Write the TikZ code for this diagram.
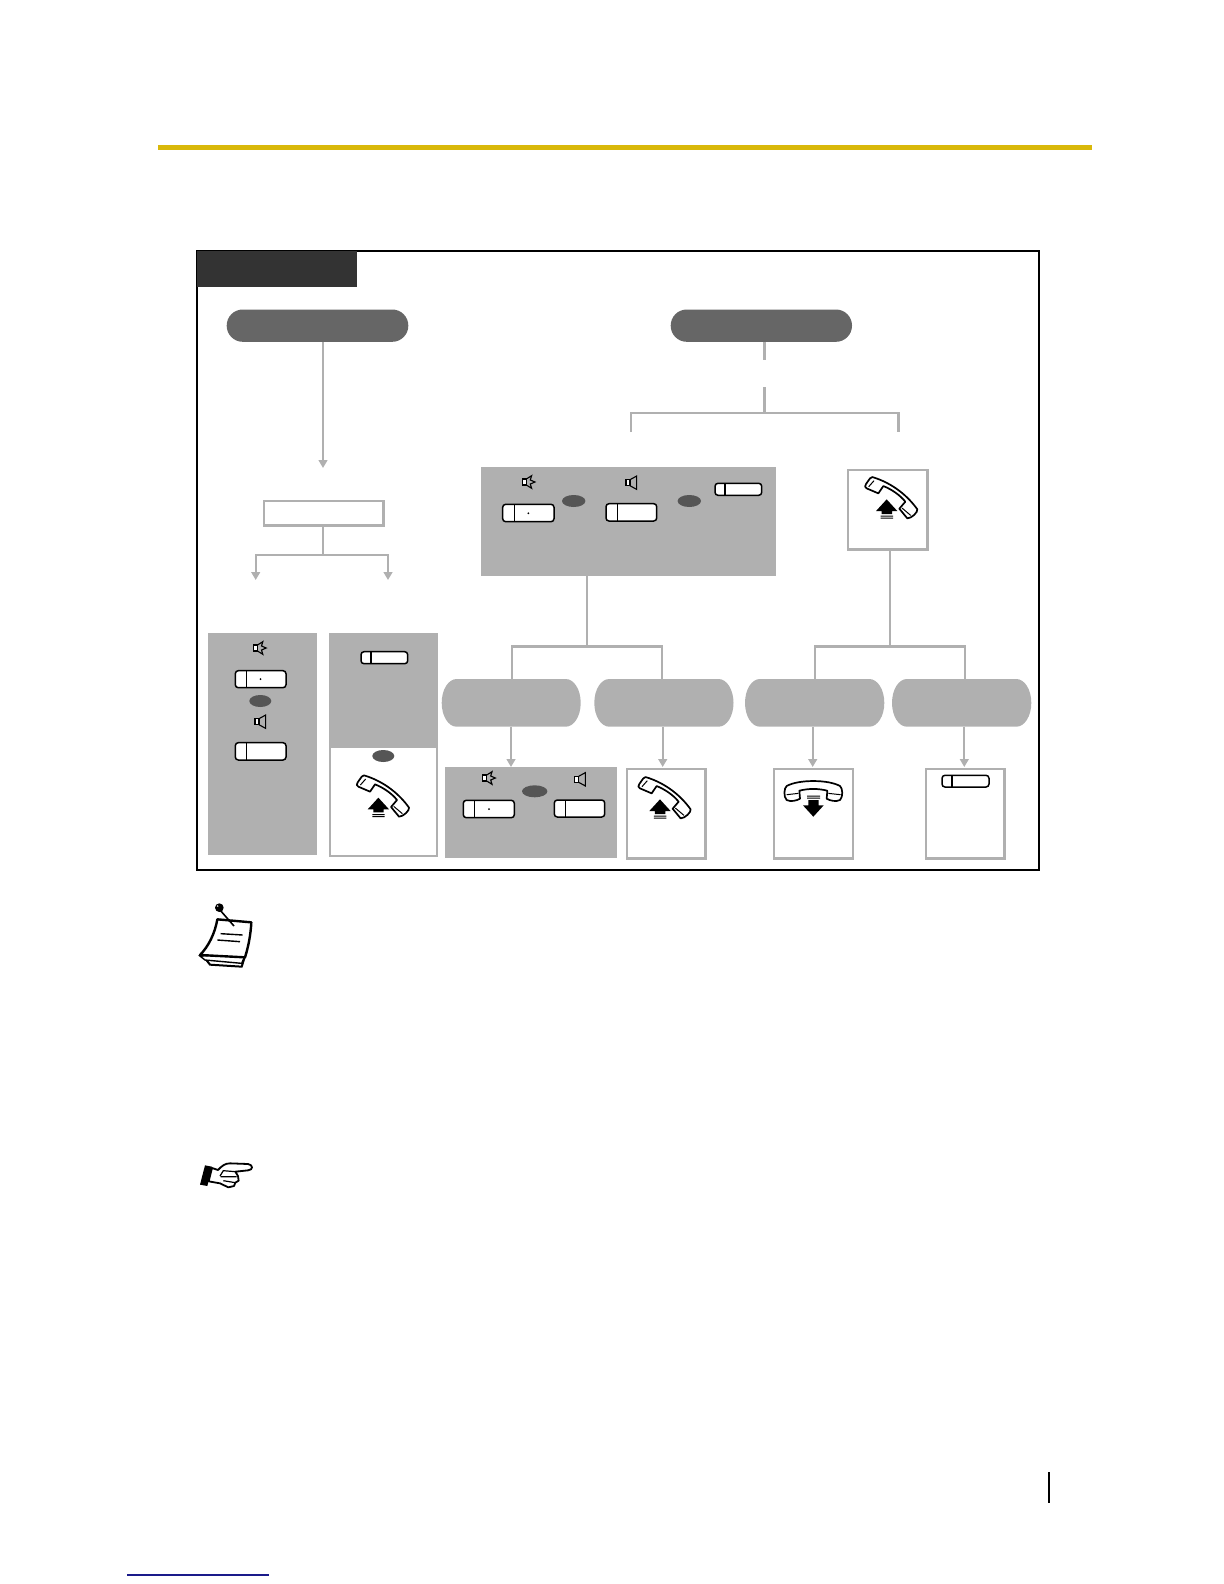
\documentclass[tikz,border=0pt]{standalone}
\usetikzlibrary{arrows.meta}
\definecolor{gr}{HTML}{B0B0B0}
\definecolor{pilldark}{HTML}{666666}
\definecolor{ovalc}{HTML}{555555}
\definecolor{tabc}{HTML}{333333}
\definecolor{goldc}{HTML}{D9B80A}
\definecolor{linkc}{HTML}{1A1A8A}
\newcommand\boxnode[6]{%
  \pgfmathsetmacro\rbW{(#5-#3)*0.5}\pgfmathsetmacro\rbH{(#6-#4)*0.5}%
  \node[#1,minimum width=\rbW pt,minimum height=\rbH pt] (#2) at ({(#3+#5)/2},{(#4+#6)/2}) {};}
\newcommand\pillk[5]{% name x1 y1 x2 y2: flattened ends
  \boxnode{pillanchor}{#1}{#2}{#3}{#4}{#5}%
  \pgfmathsetmacro\rbM{(#3+#5)/2}%
  \pgfmathsetmacro\rbA{#2+15}\pgfmathsetmacro\rbB{#4-15}%
  \pgfmathsetmacro\rbC{#2+6.7}\pgfmathsetmacro\rbD{#4-6.7}%
  \pgfmathsetmacro\rbE{#3+10.5}\pgfmathsetmacro\rbF{#5-10.5}%
  \fill[gr] (\rbA,#3) -- (\rbB,#3) .. controls (\rbD,#3) and (#4,\rbE) .. (#4,\rbM)
     .. controls (#4,\rbF) and (\rbD,#5) .. (\rbB,#5) -- (\rbA,#5)
     .. controls (\rbC,#5) and (#2,\rbF) .. (#2,\rbM)
     .. controls (#2,\rbE) and (\rbC,#3) .. (\rbA,#3) -- cycle;}
\newcommand\keyk[6]{% name x1 y1 x2 y2 xd
  \boxnode{keystyle}{#1}{#2}{#3}{#4}{#5}\draw[iconline] (#6,#3) -- (#6,#5);}
\newcommand\keydot[2]{\fill (#1,#2) circle (1);}
\newcommand\ovalk[3][11]{\fill[ovalc] (#2,#3) ellipse (#1 and 6);}
\newcommand\speakerk[2]{%
  \begin{scope}[shift={(#1,#2)},scale=1/3]
    \draw[iconline,fill=white] (-16,-9) rectangle (-4,9);
    \draw[iconline] (-4,-9) -- (16,-20) -- (16,20) -- (-4,9);
  \end{scope}}
\newcommand\speakerx[2]{%
  \begin{scope}[shift={(#1,#2)},scale=1/3]
    \draw[iconline,fill=white] (-18,-9) rectangle (-6,9);
    \draw[iconline] (-6,-9) -- (10,-19) -- (6,-6) -- (20,0) -- (6,6) -- (10,19) -- (-6,9);
  \end{scope}}
% handset, off-hook; #1,#2 = top-left corner of its extent
\newcommand\handup[2]{%
  \begin{scope}[shift={(#1,#2)},scale=1/3]
  \begin{scope}[shift={(-1185,-80)}]
    \draw[handline,fill=white,line join=round]
      (1207,81) .. controls (1270,100) and (1315,140) .. (1342,178)
      .. controls (1344,186) and (1325,205) .. (1312,205) -- (1288,176) -- (1306,155)
      .. controls (1290,135) and (1265,118) .. (1240,108)
      -- (1225,130) -- (1190,115) .. controls (1184,112) and (1184,108) .. (1188,102)
      -- (1200,85) .. controls (1202,81) and (1204,81) .. (1207,81) -- cycle;
    \draw[line width=.5pt] (1196,110) -- (1212,92) (1296,174) -- (1322,196);
    \fill (1250,148) -- (1282,183) -- (1266,183) -- (1266,192) -- (1235,192) -- (1235,183) -- (1218,183) -- cycle;
    \fill (1232,197) rectangle (1269,200) (1232,203) rectangle (1269,206);
  \end{scope}
  \end{scope}}
% handset, on-hook; #1,#2 = top-left corner of its extent
\newcommand\handdown[2]{%
  \begin{scope}[shift={(#1,#2)},scale=1/3]
  \begin{scope}[shift={(-162,-362)}]
    \draw[handline,fill=white,line join=round]
      (170,378) .. controls (205,358) and (295,358) .. (330,378)
      .. controls (338,384) and (340,410) .. (330,420)
      .. controls (318,426) and (300,422) .. (290,416) -- (292,392)
      .. controls (265,385) and (235,385) .. (208,392)
      -- (210,416) .. controls (200,422) and (182,426) .. (170,420)
      .. controls (160,410) and (162,384) .. (170,378) -- cycle;
    \draw[line width=.5pt] (170,404) -- (205,400) (295,400) -- (332,404);
    \fill (231,407) rectangle (270,410) (231,413) rectangle (270,416);
    \fill (250,470) -- (219,436) -- (235,436) -- (235,420) -- (266,420) -- (266,436) -- (281,436) -- cycle;
  \end{scope}
  \end{scope}}
\tikzset{
  panel/.style={fill=gr,inner sep=0pt,outer sep=0pt},
  whitebox/.style={draw=gr,fill=white,line width=1.2pt,inner sep=0pt,outer sep=0pt},
  darkpill/.style={fill=pilldark,rounded corners=8pt,inner sep=0pt,outer sep=0pt},
  pillanchor/.style={inner sep=0pt,outer sep=0pt},
  tabbox/.style={fill=tabc,inner sep=0pt,outer sep=0pt},
  keystyle/.style={draw=black,fill=white,line width=.75pt,rounded corners=1.5pt,inner sep=0pt,outer sep=0pt},
  iconline/.style={draw=black,line width=.55pt},
  handline/.style={draw=black,line width=.85pt},
  conn/.style={draw=gr,line width=1.2pt},
  thinconn/.style={draw=gr,line width=1pt},
  arrowconn/.style={draw=gr,line width=.95pt,-{Triangle[width=4.4pt,length=4pt,fill=gr]}},
  framebox/.style={draw=black,line width=1pt,inner sep=0pt,outer sep=0pt},
}
\begin{document}
\begin{tikzpicture}[x=0.5pt,y=-0.5pt]
\useasboundingbox (0,0) rectangle (1224,1584);
% page furniture
\fill[goldc] (158.3,144.5) rectangle (1092.3,149.5);
\fill[black] (1048.2,1472) rectangle (1050.2,1503);
\fill[linkc] (127,1574.4) rectangle (269,1575.6);
% frame and tab
\boxnode{framebox}{frame}{197}{251}{1038.5}{869.5}
\boxnode{tabbox}{tab}{197}{251}{357}{287}
% pills
\boxnode{darkpill}{p1}{226.7}{309.5}{408.3}{341.8}
\boxnode{darkpill}{p2}{670.7}{309.5}{852}{341.8}
\pillk{p3}{441.7}{679}{580.7}{726.7}
\pillk{p4}{594.3}{679}{733.5}{726.7}
\pillk{p5}{745}{679}{884.3}{726.7}
\pillk{p6}{892}{679}{1031.3}{726.7}
% boxes and panels
\boxnode{whitebox}{r1}{264}{501}{383.5}{525.5}
\boxnode{panel}{pa}{208}{633.3}{317}{855}
\boxnode{panel}{pb}{329}{633.3}{438}{746.7}
\boxnode{whitebox}{wb}{330}{746.7}{437}{855.7}
\boxnode{panel}{pm}{481}{467.3}{776}{576}
\boxnode{whitebox}{hb}{848}{470}{927.5}{549.5}
\boxnode{panel}{pc}{445.3}{767.3}{616.7}{857.7}
\boxnode{whitebox}{hc}{626.7}{768.7}{705.3}{858.5}
\boxnode{whitebox}{hd}{773.7}{768.7}{853}{858.5}
\boxnode{whitebox}{he}{926}{768.7}{1004.3}{858.5}
% connector coordinates
\coordinate (a1) at (323,468);
\coordinate (j1) at (323,554.7);
\coordinate (a2) at (255.7,580);
\coordinate (a3) at (388,580);
\coordinate (s2) at (764.3,360);
\coordinate (s3) at (764.3,387);
\coordinate (j2) at (764.3,413);
\coordinate (e1) at (631,432);
\coordinate (e2) at (898.3,432);
\coordinate (j3) at (587,646.5);
\coordinate (j4) at (889.7,646.5);
\coordinate (t3) at (512,679);
\coordinate (t4) at (661.7,679);
\coordinate (t5) at (815,679);
\coordinate (t6) at (965,679);
\coordinate (b3) at (511,767);
\coordinate (b4) at (662.7,767);
\coordinate (b5) at (812.7,767);
\coordinate (b6) at (964.3,767);
% connectors
\draw[arrowconn] (p1.south -| a1) -- (a1);
\draw[thinconn] (r1.south -| j1) -- (j1);
\draw[arrowconn] (j1) -| (a2);
\draw[arrowconn] (j1) -| (a3);
\draw[draw=gr,line width=1.5pt] (p2.south -| s2) -- (s2);
\draw[draw=gr,line width=1.5pt] (s3) -- (j2);
\draw[conn] (e1) |- (j2) -| (e2);
\draw[conn] (pm.south -| j3) -- (j3);
\draw[conn] (hb.south -| j4) -- (j4);
\draw[conn] (t3) |- (j3) -| (t4);
\draw[conn] (t5) |- (j4) -| (t6);
\draw[arrowconn] (p3.south -| b3) -- (b3);
\draw[arrowconn] (p4.south -| b4) -- (b4);
\draw[arrowconn] (p5.south -| b5) -- (b5);
\draw[arrowconn] (p6.south -| b6) -- (b6);
% panel A
\speakerx{259.5}{648}
\keyk{ka1}{235.3}{670.7}{286}{687.7}{246.3}
\keydot{260.5}{679.2}
\ovalk{260.3}{701}
\speakerk{260.3}{721.7}
\keyk{ka2}{235.3}{742.7}{286}{760}{246.3}
% panel B
\keyk{kb1}{361}{651.7}{407.7}{663.7}{371}
\ovalk{383.3}{756}
\handup{356.7}{775}
% main panel
\speakerx{528.3}{482}
\keyk{km1}{502.7}{504.3}{554}{521.7}{514.3}
\keydot{528.3}{513.3}
\ovalk[11.7]{573.7}{501}
\speakerk{631.3}{482.7}
\keyk{km2}{606}{503.7}{656.7}{521}{617.3}
\ovalk[11.7]{689.3}{501}
\keyk{km3}{715}{483.3}{761.7}{495.3}{725}
\handup{865}{476.7}
% lower row
\speakerx{488.7}{778}
\keyk{kc1}{463.3}{800.3}{514.3}{817.7}{474.3}
\keydot{489}{809}
\ovalk[12.7]{534.7}{791.3}
\speakerk{580}{779.3}
\keyk{kc2}{554.3}{800}{604.7}{817}{565.3}
\handup{638.3}{776.7}
\handdown{784}{780.7}
\keyk{ke1}{942}{775.3}{989}{787}{952}
% note icon
\begin{scope}[shift={(190,890)},scale=1/3]
  \draw[line width=1pt,fill=white] (45,205) -- (60,224) -- (155,230) -- (168,190) -- cycle;
  \draw[line width=.7pt,fill=white] (30,198) -- (45,210) -- (155,220) -- (168,190) -- cycle;
  \draw[line width=1.2pt,fill=white,line join=round] (82,88) -- (184,97)
     .. controls (182,135) and (175,170) .. (165,202) -- (30,195)
     .. controls (55,170) and (75,130) .. (82,88) -- cycle;
  \draw[line width=.7pt] (92,131) -- (158,135) (82,150) -- (150,155);
  \draw[line width=.8pt] (90,60) -- (132,108);
  \fill (88,53) circle (13);
  \fill[white] (83,48) circle (2.5);
\end{scope}
% pointing hand icon
\begin{scope}[shift={(190,1140)},scale=1/3]
  \fill (45,76) -- (66,80) -- (52,138) -- (30,134) -- cycle;
  \draw[line width=.9pt,fill=white,line join=round]
     (66,84) -- (84,90) .. controls (95,78) and (105,70) .. (120,70)
     -- (174,72) .. controls (190,74) and (190,90) .. (174,91)
     -- (136,95) -- (144,108) -- (146,122) -- (136,128) -- (132,138) -- (115,142)
     -- (90,130) -- (56,124) -- cycle;
  \draw[line width=.6pt] (136,95) -- (100,92) -- (90,108)
    (92,110) -- (140,110) (100,122) -- (136,128);
\end{scope}
\end{tikzpicture}
\end{document}
